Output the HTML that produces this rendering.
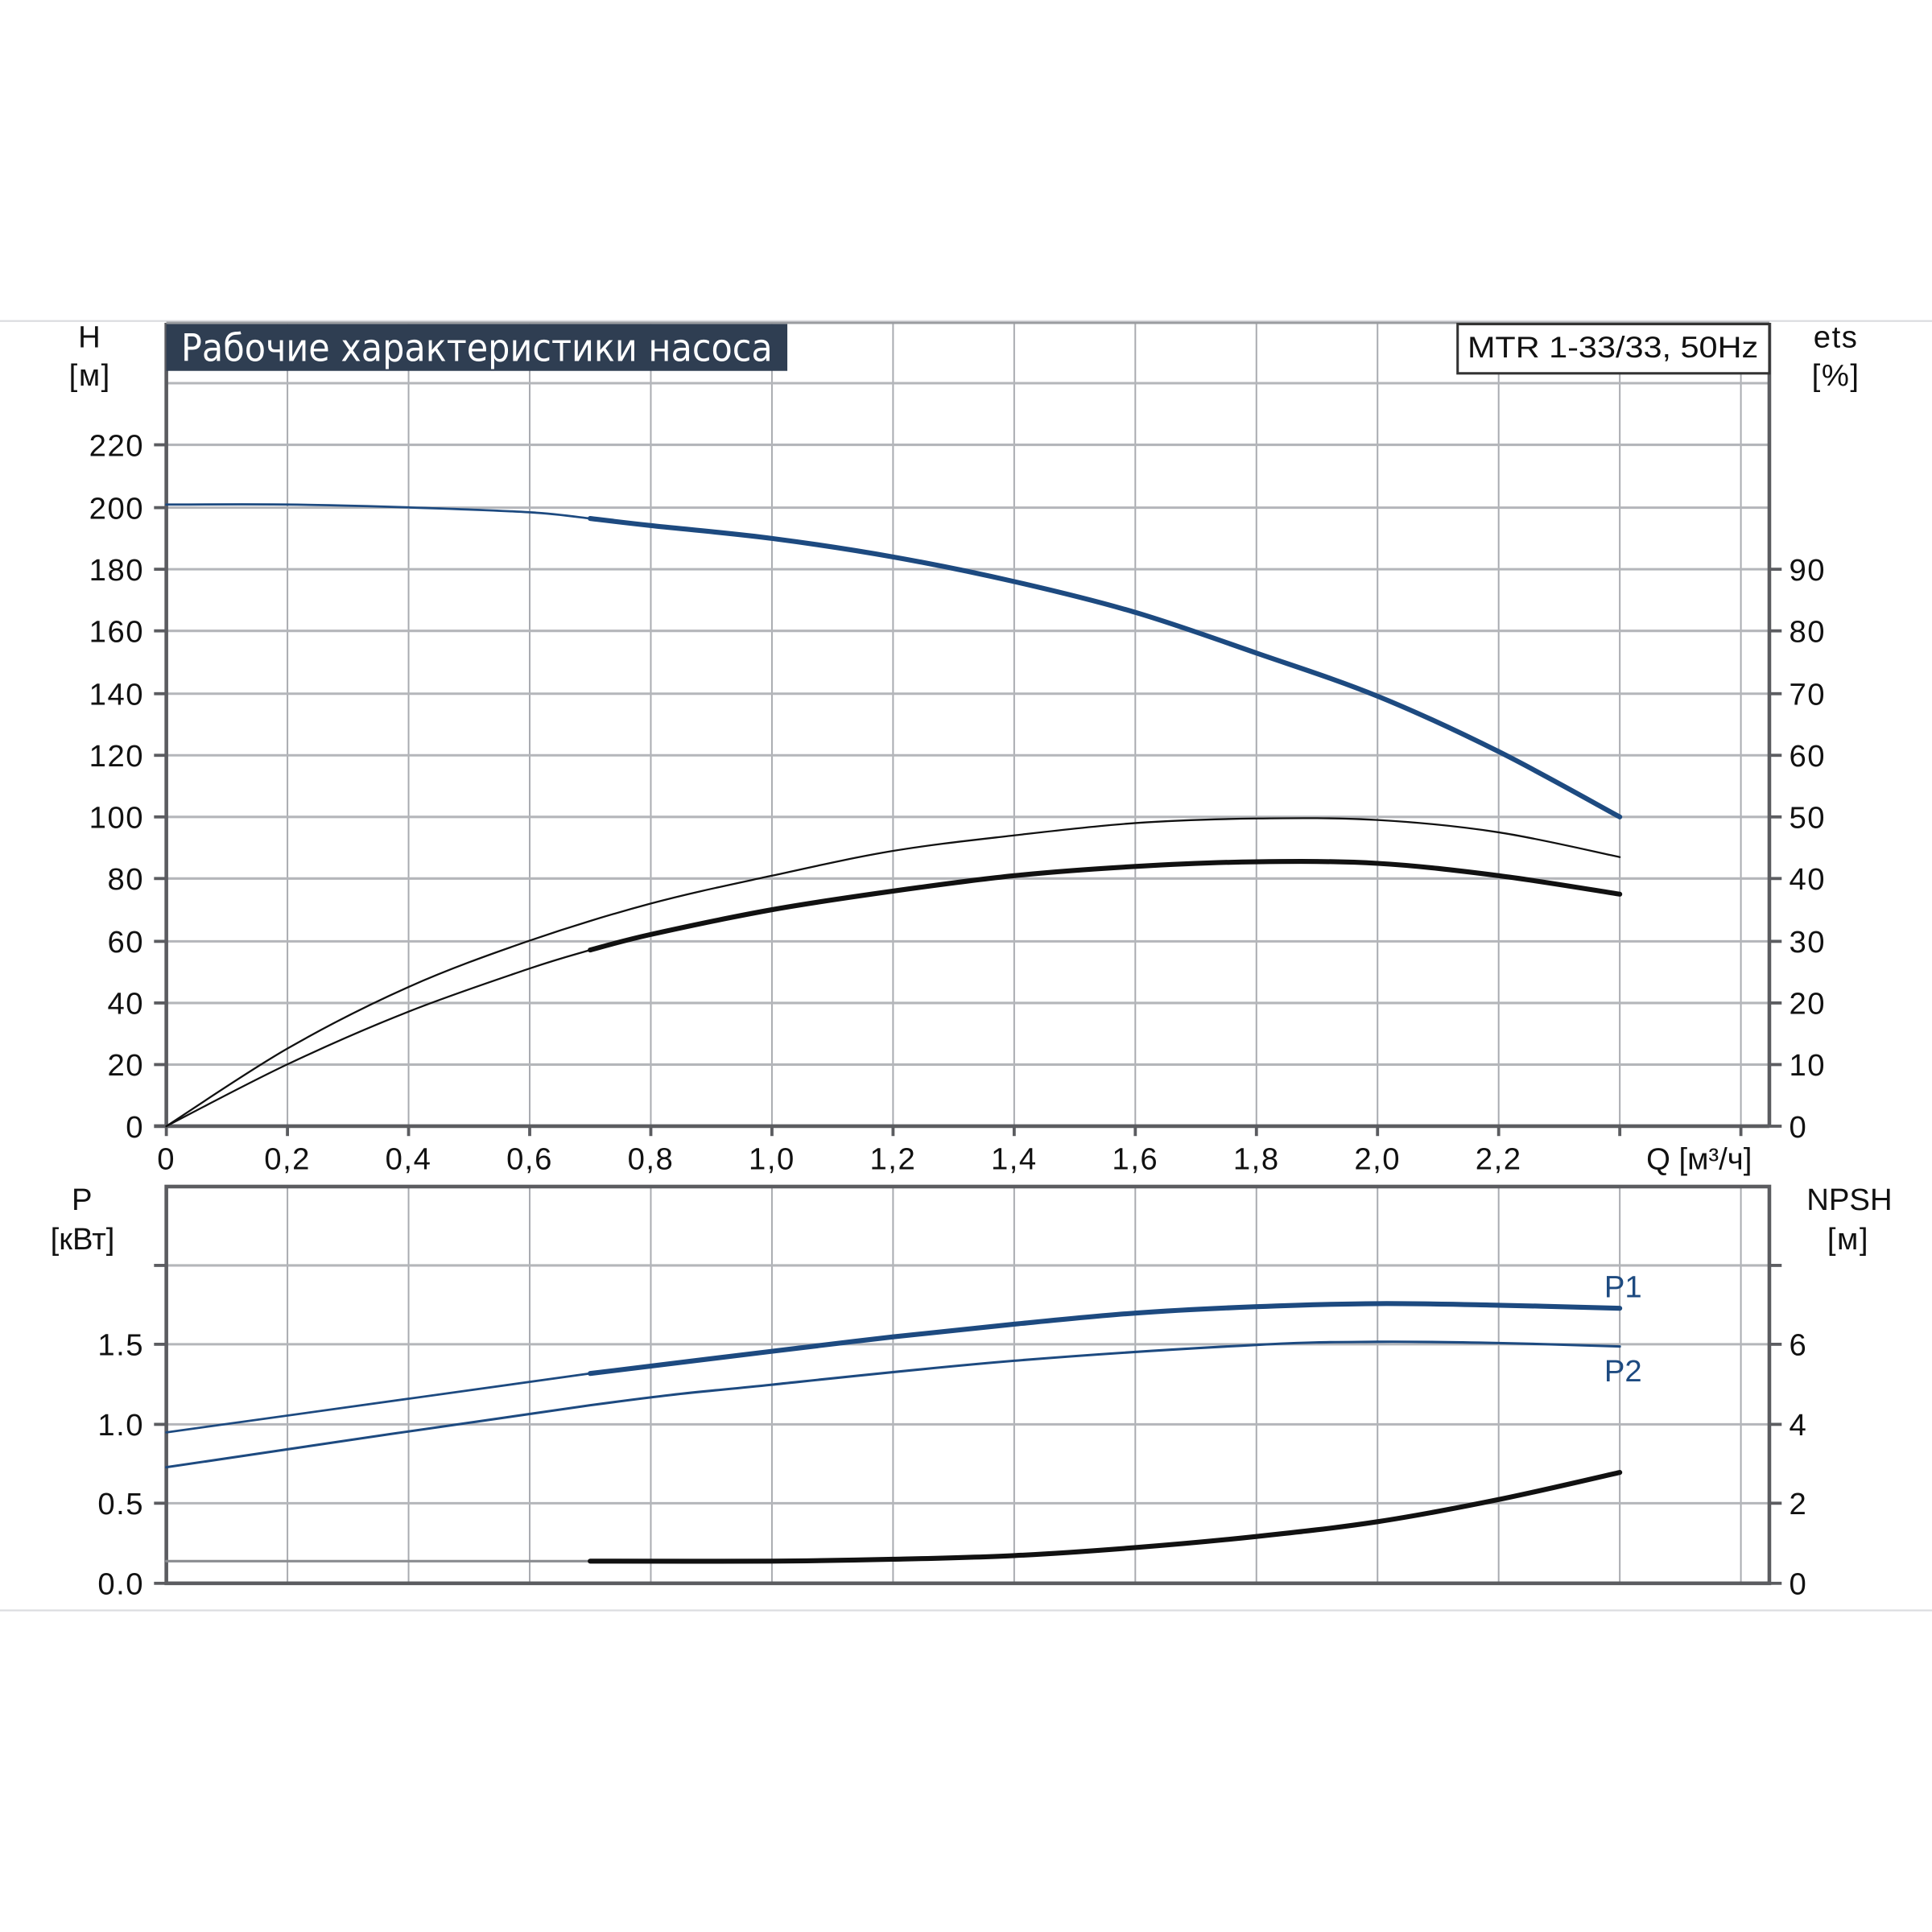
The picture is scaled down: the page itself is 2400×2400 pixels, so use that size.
<!DOCTYPE html>
<html><head><meta charset="utf-8"><style>html,body{margin:0;padding:0;background:#fff}svg{display:block}</style></head>
<body>
<svg id="c" width="2400" height="2400" viewBox="0 0 1568 1568" xmlns="http://www.w3.org/2000/svg" font-family="Liberation Sans, DejaVu Sans, sans-serif">
<rect width="1568" height="1568" fill="#fff"/>
<line x1="0" y1="260.5" x2="1568" y2="260.5" stroke="#dcdde0" stroke-width="1.5"/>
<line x1="0" y1="1307" x2="1568" y2="1307" stroke="#dcdde0" stroke-width="1.5"/>
<g stroke="#a9abb0" stroke-width="1.3">
<line x1="233.3" y1="262" x2="233.3" y2="914"/><line x1="331.6" y1="262" x2="331.6" y2="914"/><line x1="429.9" y1="262" x2="429.9" y2="914"/><line x1="528.2" y1="262" x2="528.2" y2="914"/><line x1="626.5" y1="262" x2="626.5" y2="914"/><line x1="724.8" y1="262" x2="724.8" y2="914"/><line x1="823.1" y1="262" x2="823.1" y2="914"/><line x1="921.4" y1="262" x2="921.4" y2="914"/><line x1="1019.7" y1="262" x2="1019.7" y2="914"/><line x1="1118" y1="262" x2="1118" y2="914"/><line x1="1216.3" y1="262" x2="1216.3" y2="914"/><line x1="1314.6" y1="262" x2="1314.6" y2="914"/><line x1="1412.9" y1="262" x2="1412.9" y2="914"/>
<line x1="233.3" y1="963" x2="233.3" y2="1285"/><line x1="331.6" y1="963" x2="331.6" y2="1285"/><line x1="429.9" y1="963" x2="429.9" y2="1285"/><line x1="528.2" y1="963" x2="528.2" y2="1285"/><line x1="626.5" y1="963" x2="626.5" y2="1285"/><line x1="724.8" y1="963" x2="724.8" y2="1285"/><line x1="823.1" y1="963" x2="823.1" y2="1285"/><line x1="921.4" y1="963" x2="921.4" y2="1285"/><line x1="1019.7" y1="963" x2="1019.7" y2="1285"/><line x1="1118" y1="963" x2="1118" y2="1285"/><line x1="1216.3" y1="963" x2="1216.3" y2="1285"/><line x1="1314.6" y1="963" x2="1314.6" y2="1285"/><line x1="1412.9" y1="963" x2="1412.9" y2="1285"/>
</g>
<g stroke="#b4b6ba" stroke-width="2">
<line x1="135" y1="311" x2="1436" y2="311"/><line x1="135" y1="361" x2="1436" y2="361"/><line x1="135" y1="412" x2="1436" y2="412"/><line x1="135" y1="462" x2="1436" y2="462"/><line x1="135" y1="512" x2="1436" y2="512"/><line x1="135" y1="563" x2="1436" y2="563"/><line x1="135" y1="613" x2="1436" y2="613"/><line x1="135" y1="663" x2="1436" y2="663"/><line x1="135" y1="713" x2="1436" y2="713"/><line x1="135" y1="764" x2="1436" y2="764"/><line x1="135" y1="814" x2="1436" y2="814"/><line x1="135" y1="864" x2="1436" y2="864"/>
<line x1="135" y1="1027" x2="1436" y2="1027"/><line x1="135" y1="1091" x2="1436" y2="1091"/><line x1="135" y1="1156" x2="1436" y2="1156"/><line x1="135" y1="1220" x2="1436" y2="1220"/>
</g>
<g stroke="#5b5c60" stroke-width="3" fill="none">
<line x1="135" y1="262" x2="135" y2="914"/><line x1="125" y1="914" x2="1436" y2="914"/><line x1="1436" y1="262" x2="1436" y2="914"/>
<line x1="135" y1="262" x2="1436" y2="262" stroke-width="2" stroke="#9a9ca0"/>
<rect x="135" y="963" width="1301" height="322"/>
</g>
<g stroke="#5b5c60" stroke-width="2.5">
<line x1="125" y1="361" x2="135" y2="361"/><line x1="125" y1="412" x2="135" y2="412"/><line x1="125" y1="462" x2="135" y2="462"/><line x1="125" y1="512" x2="135" y2="512"/><line x1="125" y1="563" x2="135" y2="563"/><line x1="125" y1="613" x2="135" y2="613"/><line x1="125" y1="663" x2="135" y2="663"/><line x1="125" y1="713" x2="135" y2="713"/><line x1="125" y1="764" x2="135" y2="764"/><line x1="125" y1="814" x2="135" y2="814"/><line x1="125" y1="864" x2="135" y2="864"/>
<line x1="1436" y1="462" x2="1446" y2="462"/><line x1="1436" y1="512" x2="1446" y2="512"/><line x1="1436" y1="563" x2="1446" y2="563"/><line x1="1436" y1="613" x2="1446" y2="613"/><line x1="1436" y1="663" x2="1446" y2="663"/><line x1="1436" y1="713" x2="1446" y2="713"/><line x1="1436" y1="764" x2="1446" y2="764"/><line x1="1436" y1="814" x2="1446" y2="814"/><line x1="1436" y1="864" x2="1446" y2="864"/><line x1="1436" y1="914" x2="1446" y2="914"/>
<line x1="125" y1="1027" x2="135" y2="1027"/><line x1="125" y1="1091" x2="135" y2="1091"/><line x1="125" y1="1156" x2="135" y2="1156"/><line x1="125" y1="1220" x2="135" y2="1220"/><line x1="125" y1="1285" x2="135" y2="1285"/>
<line x1="1436" y1="1027" x2="1446" y2="1027"/><line x1="1436" y1="1091" x2="1446" y2="1091"/><line x1="1436" y1="1156" x2="1446" y2="1156"/><line x1="1436" y1="1220" x2="1446" y2="1220"/><line x1="1436" y1="1285" x2="1446" y2="1285"/>
<line x1="135" y1="914" x2="135" y2="922"/><line x1="233.3" y1="914" x2="233.3" y2="922"/><line x1="331.6" y1="914" x2="331.6" y2="922"/><line x1="429.9" y1="914" x2="429.9" y2="922"/><line x1="528.2" y1="914" x2="528.2" y2="922"/><line x1="626.5" y1="914" x2="626.5" y2="922"/><line x1="724.8" y1="914" x2="724.8" y2="922"/><line x1="823.1" y1="914" x2="823.1" y2="922"/><line x1="921.4" y1="914" x2="921.4" y2="922"/><line x1="1019.7" y1="914" x2="1019.7" y2="922"/><line x1="1118" y1="914" x2="1118" y2="922"/><line x1="1216.3" y1="914" x2="1216.3" y2="922"/><line x1="1314.6" y1="914" x2="1314.6" y2="922"/><line x1="1412.9" y1="914" x2="1412.9" y2="922"/>
</g>
<rect x="135" y="263" width="504" height="38" fill="#2f3e52"/>
<text x="147" y="293" font-size="31" fill="#fff" font-family="DejaVu Sans Condensed, DejaVu Sans, sans-serif" textLength="480" lengthAdjust="spacingAndGlyphs">Рабочие характеристики насоса</text>
<rect x="1183" y="263" width="253" height="40" fill="#fff" stroke="#333" stroke-width="2"/>
<text x="1191" y="290" font-size="24" fill="#111" textLength="236" lengthAdjust="spacingAndGlyphs">MTR 1-33/33, 50Hz</text>
<g font-size="25" fill="#111" text-anchor="end" letter-spacing="1">
<text x="117" y="370">220</text><text x="117" y="421">200</text><text x="117" y="471">180</text><text x="117" y="521">160</text><text x="117" y="572">140</text><text x="117" y="622">120</text><text x="117" y="672">100</text><text x="117" y="722">80</text><text x="117" y="773">60</text><text x="117" y="823">40</text><text x="117" y="873">20</text><text x="117" y="923">0</text>
<text x="117" y="1100">1.5</text><text x="117" y="1165">1.0</text><text x="117" y="1229">0.5</text><text x="117" y="1294">0.0</text>
</g>
<g font-size="25" fill="#111" letter-spacing="1">
<text x="1452" y="471">90</text><text x="1452" y="521">80</text><text x="1452" y="572">70</text><text x="1452" y="622">60</text><text x="1452" y="672">50</text><text x="1452" y="722">40</text><text x="1452" y="773">30</text><text x="1452" y="823">20</text><text x="1452" y="873">10</text><text x="1452" y="923">0</text>
<text x="1452" y="1100">6</text><text x="1452" y="1165">4</text><text x="1452" y="1229">2</text><text x="1452" y="1294">0</text>
</g>
<g font-size="25" fill="#111" text-anchor="middle" letter-spacing="1">
<text x="135" y="949">0</text><text x="233.3" y="949">0,2</text><text x="331.6" y="949">0,4</text><text x="429.9" y="949">0,6</text><text x="528.2" y="949">0,8</text><text x="626.5" y="949">1,0</text><text x="724.8" y="949">1,2</text><text x="823.1" y="949">1,4</text><text x="921.4" y="949">1,6</text><text x="1019.7" y="949">1,8</text><text x="1118" y="949">2,0</text><text x="1216.3" y="949">2,2</text>
<text x="1379" y="949" letter-spacing="0">Q [м³/ч]</text>
<text x="73" y="282">H</text><text x="73" y="313">[м]</text>
<text x="1490" y="282">ets</text><text x="1490" y="313">[%]</text>
<text x="67" y="982">P</text><text x="67" y="1014" letter-spacing="0">[кВт]</text>
<text x="1501" y="982" letter-spacing="0">NPSH</text><text x="1500" y="1014">[м]</text>
</g>
<g fill="none" stroke-linecap="round" stroke-linejoin="round">
<polyline class="s" stroke="#1d4a80" stroke-width="1.8" points="135,409.5 233,409.5 331.6,411.8 429.9,415.8 479,420.8"/>
<polyline class="s" stroke="#1d4a80" stroke-width="4" points="479,420.8 528,426.5 626.5,437 724.8,452 823.1,472 921.4,497 1019.7,530 1118,565 1216.3,610 1314.6,663"/>
<polyline class="s" stroke="#111" stroke-width="1.5" points="135,914 233.3,851 331.6,801 429.9,763.4 528.2,733.3 626.5,710.7 724.8,690.6 823.1,678 921.4,668 1019.7,664.3 1118,665.5 1216.3,675.5 1314.6,695.6"/>
<polyline class="s" stroke="#111" stroke-width="1.5" points="135,914 233.3,863.8 331.6,821 429.9,786 479,771"/>
<polyline class="s" stroke="#111" stroke-width="4" points="479,771 528.2,758.4 626.5,738.3 724.8,723.2 823.1,710.7 921.4,703.2 1019.7,699.4 1118,700.7 1216.3,710.7 1314.6,725.7"/>
<polyline class="s" stroke="#1d4a80" stroke-width="1.8" points="135,1162.5 479,1114.7"/>
<polyline class="s" stroke="#1d4a80" stroke-width="4" points="479,1114.7 626.5,1096.7 724.8,1085 823.1,1074.7 921.4,1065.7 1019.7,1060.5 1118,1058 1216.3,1059.3 1314.6,1061.8"/>
<polyline class="s" stroke="#1d4a80" stroke-width="2" points="135,1190.8 479,1140.5 626.5,1123.8 823.1,1104.4 1019.7,1091.5 1118,1089 1216.3,1090 1314.6,1092.8"/>
<line x1="135" y1="1267" x2="479" y2="1267" stroke="#8a8c90" stroke-width="2"/>
<polyline class="s" stroke="#111" stroke-width="4" points="479,1267 626.5,1267 724.8,1265.5 823.1,1262.5 921.4,1256 1019.7,1247 1118,1235 1216.3,1217 1314.6,1195"/>
</g>
<text x="1302" y="1053" font-size="25" fill="#1d4a80">P1</text>
<text x="1302" y="1121" font-size="25" fill="#1d4a80">P2</text>
</svg>
<script>
document.querySelectorAll('polyline.s').forEach(function(pl){
  var p=pl.getAttribute('points').trim().split(/\s+/).map(function(s){return s.split(',').map(Number);});
  if(p.length<3)return;
  var d='M'+p[0][0]+','+p[0][1];
  for(var i=0;i<p.length-1;i++){
    var p0=p[i-1]||p[i],p1=p[i],p2=p[i+1],p3=p[i+2]||p2;
    var c1x=p1[0]+(p2[0]-p0[0])/6,c1y=p1[1]+(p2[1]-p0[1])/6;
    var c2x=p2[0]-(p3[0]-p1[0])/6,c2y=p2[1]-(p3[1]-p1[1])/6;
    d+=' C'+c1x+','+c1y+' '+c2x+','+c2y+' '+p2[0]+','+p2[1];
  }
  var path=document.createElementNS('http://www.w3.org/2000/svg','path');
  ['stroke','stroke-width'].forEach(function(a){path.setAttribute(a,pl.getAttribute(a));});
  path.setAttribute('d',d);
  pl.parentNode.replaceChild(path,pl);
});
</script>
</body></html>
